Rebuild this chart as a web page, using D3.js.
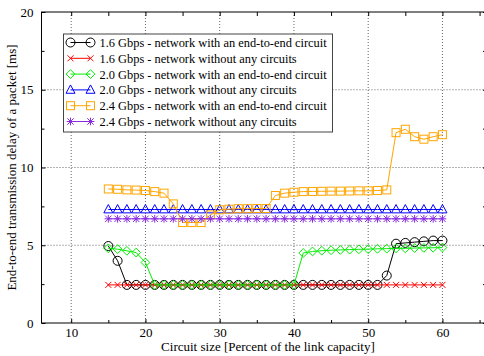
<!DOCTYPE html>
<html>
<head>
<meta charset="utf-8">
<script src="https://cdn.jsdelivr.net/npm/d3@7"></script>
<style>
  body { margin: 0; background: white; }
  svg { display: block; font-family: "Liberation Serif", "Times New Roman", serif; }
</style>
</head>
<body>
<svg width="484" height="356"></svg>
<script>
const width = 484, height = 356;
let margin = {top: 12, right: -3, bottom: 33, left: 41.5};
let plotWidth = width - margin.left - margin.right,
    plotHeight = height - margin.top - margin.bottom;

// circuit size, 15 .. 60 in steps of 1.25
const circuitSize = [15, 16.25, 17.5, 18.75, 20, 21.25, 22.5, 23.75, 25, 26.25, 27.5, 28.75,
  30, 31.25, 32.5, 33.75, 35, 36.25, 37.5, 38.75, 40, 41.25, 42.5, 43.75, 45, 46.25, 47.5,
  48.75, 50, 51.25, 52.5, 53.75, 55, 56.25, 57.5, 58.75, 60]

const circuit16 = [4.95, 4.0, 2.45, 2.45, 2.45, 2.45, 2.45, 2.45, 2.45, 2.45, 2.45, 2.45,
  2.45, 2.45, 2.45, 2.45, 2.45, 2.45, 2.45, 2.45, 2.45, 2.45, 2.45, 2.45, 2.45, 2.45, 2.45,
  2.45, 2.45, 2.45, 3.05, 5.1, 5.15, 5.2, 5.25, 5.3, 5.3]
const noCircuit16 = [2.45, 2.45, 2.45, 2.45, 2.45, 2.45, 2.45, 2.45, 2.45, 2.45, 2.45, 2.45,
  2.45, 2.45, 2.45, 2.45, 2.45, 2.45, 2.45, 2.45, 2.45, 2.45, 2.45, 2.45, 2.45, 2.45, 2.45,
  2.45, 2.45, 2.45, 2.45, 2.45, 2.45, 2.45, 2.45, 2.45, 2.45]
const circuit20 = [4.8, 4.75, 4.64, 4.53, 3.89, 2.45, 2.45, 2.45, 2.45, 2.45, 2.45, 2.45,
  2.45, 2.45, 2.45, 2.45, 2.45, 2.45, 2.45, 2.45, 2.45, 4.5, 4.6, 4.65, 4.68, 4.7, 4.72,
  4.74, 4.75, 4.77, 4.78, 4.8, 4.8, 4.82, 4.83, 4.84, 4.85]
const noCircuit20 = [7.3, 7.3, 7.3, 7.3, 7.3, 7.3, 7.3, 7.3, 7.3, 7.3, 7.3, 7.3,
  7.3, 7.3, 7.3, 7.3, 7.3, 7.3, 7.3, 7.3, 7.3, 7.3, 7.3, 7.3, 7.3, 7.3, 7.3,
  7.3, 7.3, 7.3, 7.3, 7.3, 7.3, 7.3, 7.3, 7.3, 7.3]
const circuit24 = [8.62, 8.6, 8.56, 8.55, 8.52, 8.45, 8.35, 7.66, 6.46, 6.46, 6.46, 6.95,
  7.28, 7.32, 7.35, 7.35, 7.36, 7.36, 8.2, 8.35, 8.41, 8.45, 8.46, 8.47, 8.48, 8.48, 8.49,
  8.5, 8.5, 8.52, 8.56, 12.24, 12.46, 11.98, 11.82, 11.98, 12.11]
const noCircuit24 = [6.7, 6.7, 6.7, 6.7, 6.7, 6.7, 6.7, 6.7, 6.7, 6.7, 6.7, 6.7,
  6.7, 6.7, 6.7, 6.7, 6.7, 6.7, 6.7, 6.7, 6.7, 6.7, 6.7, 6.7, 6.7, 6.7, 6.7,
  6.7, 6.7, 6.7, 6.7, 6.7, 6.7, 6.7, 6.7, 6.7, 6.7]

const seriesNames = [
  "1.6 Gbps - network with an end-to-end circuit",
  "1.6 Gbps - network without any circuits",
  "2.0 Gbps - network with an end-to-end circuit",
  "2.0 Gbps - network without any circuits",
  "2.4 Gbps - network with an end-to-end circuit",
  "2.4 Gbps - network without any circuits"]
const seriesValues = [circuit16, noCircuit16, circuit20, noCircuit20, circuit24, noCircuit24]
const seriesColors = ["#000000", "#ff0000", "#00ee00", "#0000ff", "#ffa500", "#8a2be2"]
const seriesMarkers = ["circle", "cross", "diamond", "triangle", "square", "star"]

const xTicks = [10, 20, 30, 40, 50, 60]
const xMinorTicks = [15, 25, 35, 45, 55, 65]
const yTicks = [0, 5, 10, 15, 20]
const yMinorTicks = [2.5, 7.5, 12.5, 17.5]

var svg = d3.select("svg")

const x = d3.scaleLinear().domain([6, 66]).range([0, plotWidth])
const y = d3.scaleLinear().domain([0, 20]).range([plotHeight, 0])

const g = svg.append("g").attr("transform", `translate(${margin.left},${margin.top})`)

// dotted grid
g.selectAll(".vgrid").data(xTicks).enter().append("line")
  .attr("x1", d => x(d)).attr("x2", d => x(d))
  .attr("y1", 0).attr("y2", plotHeight)
  .attr("stroke", "#666").attr("stroke-width", 1).attr("stroke-dasharray", "1,2")
g.selectAll(".hgrid").data(yTicks.slice(1, 4)).enter().append("line")
  .attr("x1", 0).attr("x2", plotWidth)
  .attr("y1", d => y(d)).attr("y2", d => y(d))
  .attr("stroke", "#666").attr("stroke-width", 1).attr("stroke-dasharray", "1,2")

// axes, ticks pointing inward
function tickStyle(sel) {
  sel.select(".domain").remove()
  sel.selectAll("line").attr("stroke", "#000")
  sel.selectAll("text").attr("font-size", "13px").attr("fill", "#000")
    .attr("font-family", "Liberation Serif")
}
g.append("g").attr("transform", `translate(0,${plotHeight})`)
  .call(d3.axisBottom(x).tickValues(xTicks).tickSize(-4).tickPadding(5).tickFormat(d3.format("d")))
  .call(tickStyle)
g.append("g").attr("transform", `translate(0,${plotHeight})`)
  .call(d3.axisBottom(x).tickValues(xMinorTicks).tickSize(-3).tickFormat(""))
  .call(tickStyle)
g.append("g")
  .call(d3.axisTop(x).tickValues(xTicks.concat(xMinorTicks)).tickSize(-4).tickFormat(""))
  .call(tickStyle)
g.append("g")
  .call(d3.axisLeft(y).tickValues(yTicks).tickSize(-4).tickPadding(8).tickFormat(d3.format("d")))
  .call(tickStyle)
g.append("g")
  .call(d3.axisLeft(y).tickValues(yMinorTicks).tickSize(-3).tickFormat(""))
  .call(tickStyle)
g.append("g").attr("transform", `translate(${plotWidth},0)`)
  .call(d3.axisRight(y).tickValues(yTicks.concat(yMinorTicks)).tickSize(-4).tickFormat(""))
  .call(tickStyle)

g.append("rect").attr("width", plotWidth).attr("height", plotHeight)
  .attr("fill", "none").attr("stroke", "#000").attr("stroke-width", 1)

// markers
function drawMarker(sel, type, color, size) {
  const s = size
  if (type == "circle") {
    sel.append("circle").attr("r", s).attr("fill", "none").attr("stroke", color)
  } else if (type == "cross") {
    sel.append("path").attr("d", `M${-s},${-s}L${s},${s}M${-s},${s}L${s},${-s}`)
      .attr("stroke", color)
  } else if (type == "diamond") {
    sel.append("path").attr("d", `M0,${-s * 1.1}L${s * 1.1},0L0,${s * 1.1}L${-s * 1.1},0Z`)
      .attr("fill", "none").attr("stroke", color)
  } else if (type == "triangle") {
    sel.append("path").attr("d", `M0,${-s * 1.1}L${s},${s * 0.75}L${-s},${s * 0.75}Z`)
      .attr("fill", "none").attr("stroke", color)
  } else if (type == "square") {
    sel.append("rect").attr("x", -s).attr("y", -s).attr("width", 2 * s).attr("height", 2 * s)
      .attr("fill", "none").attr("stroke", color)
  } else if (type == "star") {
    sel.append("path")
      .attr("d", `M${-s},${-s}L${s},${s}M${-s},${s}L${s},${-s}M0,${-s * 1.2}L0,${s * 1.2}M${-s * 1.2},0L${s * 1.2},0`)
      .attr("stroke", color)
  }
}
const markerSize = [4.5, 3, 4, 4.5, 4, 3.2]

const line = d3.line().x(d => x(d[0])).y(d => y(d[1]))

for (let i = 0; i < seriesValues.length; i++) {
  const pts = circuitSize.map((c, j) => [c, seriesValues[i][j]])
  g.append("path").datum(pts).attr("d", line)
    .attr("fill", "none").attr("stroke", seriesColors[i]).attr("stroke-width", 1)
  g.selectAll(".m" + i).data(pts).enter().append("g")
    .attr("transform", d => `translate(${x(d[0])},${y(d[1])})`)
    .each(function() { drawMarker(d3.select(this), seriesMarkers[i], seriesColors[i], markerSize[i]) })
}

// legend
const legend = svg.append("g").attr("transform", "translate(63.5,34)")
legend.append("rect").attr("width", 269).attr("height", 98)
  .attr("fill", "white").attr("stroke", "#444").attr("stroke-width", 1)
for (let i = 0; i < seriesNames.length; i++) {
  const ly = 8.5 + i * 15.8
  const row = legend.append("g").attr("transform", `translate(0,${ly})`)
  row.append("line").attr("x1", 7).attr("x2", 27).attr("y1", 0).attr("y2", 0)
    .attr("stroke", seriesColors[i])
  row.append("g").attr("transform", "translate(7,0)")
    .call(sel => drawMarker(sel, seriesMarkers[i], seriesColors[i], markerSize[i]))
  row.append("g").attr("transform", "translate(27,0)")
    .call(sel => drawMarker(sel, seriesMarkers[i], seriesColors[i], markerSize[i]))
  row.append("text").attr("x", 36).attr("y", 4.5)
    .attr("font-size", "12.4px").attr("fill", "#000")
    .text(seriesNames[i])
}

// axis titles
svg.append("text").attr("x", margin.left + x(36.5)).attr("y", 351)
  .attr("text-anchor", "middle").attr("font-size", "13px")
  .text("Circuit size [Percent of the link capacity]")
svg.append("text")
  .attr("transform", `translate(16,${margin.top + plotHeight / 2}) rotate(-90)`)
  .attr("text-anchor", "middle").attr("font-size", "13px")
  .text("End-to-end transmission delay of a packet [ms]")
</script>
</body>
</html>
